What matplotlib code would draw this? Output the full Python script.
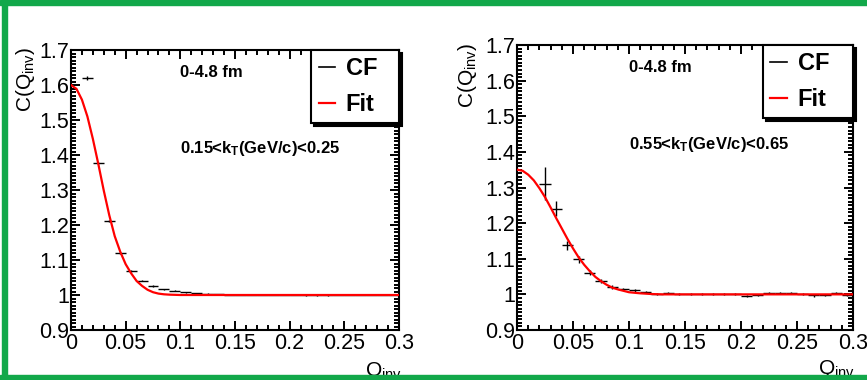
import numpy as np
import matplotlib.pyplot as plt
from matplotlib.lines import Line2D
from matplotlib.patches import Rectangle
from matplotlib.ticker import MultipleLocator, FuncFormatter

plt.rcParams['font.family'] = ['Liberation Sans', 'DejaVu Sans']
plt.rcParams['mathtext.fontset'] = 'custom'
plt.rcParams['mathtext.rm'] = 'Liberation Sans'
plt.rcParams['mathtext.it'] = 'Liberation Sans'
plt.rcParams['mathtext.bf'] = 'Liberation Sans:bold'

# left panel: 0.15<kT<0.25
q_left = [0.015, 0.025, 0.035, 0.045, 0.055, 0.065, 0.075, 0.085, 0.095, 0.105,
          0.115, 0.125, 0.135, 0.145, 0.155, 0.165, 0.175, 0.185, 0.195, 0.205,
          0.215, 0.225, 0.235, 0.245, 0.255, 0.265, 0.275, 0.285, 0.295]
cf_left = [1.620, 1.377, 1.211, 1.120, 1.069, 1.041, 1.026, 1.016, 1.012, 1.008,
           1.005, 1.004, 1.002, 1.001, 1.001, 1.000, 1.000, 1.000, 1.000, 1.000,
           0.999, 0.999, 0.999, 1.000, 1.000, 1.000, 1.000, 1.000, 1.000]
err_left = [0.006, 0.004, 0.003, 0.003, 0.002, 0.002, 0.002, 0.002, 0.001, 0.001,
            0.001, 0.001, 0.001, 0.001, 0.001, 0.001, 0.001, 0.001, 0.001, 0.001,
            0.001, 0.001, 0.001, 0.001, 0.001, 0.001, 0.001, 0.001, 0.001]
fit_q_left = [0, 0.005, 0.01, 0.015, 0.02, 0.025, 0.03, 0.035, 0.04, 0.045, 0.05,
              0.055, 0.06, 0.065, 0.07, 0.075, 0.08, 0.085, 0.09, 0.1, 0.3]
fit_left = [1.600, 1.589, 1.558, 1.510, 1.446, 1.374, 1.298, 1.228, 1.168, 1.124, 1.088,
            1.062, 1.040, 1.026, 1.015, 1.008, 1.004, 1.002, 1.001, 1.000, 1.000]

# right panel: 0.55<kT<0.65
q_right = [0.025, 0.035, 0.045, 0.055, 0.065, 0.075, 0.085, 0.095, 0.105, 0.115,
           0.125, 0.135, 0.145, 0.155, 0.165, 0.175, 0.185, 0.195, 0.205, 0.215,
           0.225, 0.235, 0.245, 0.255, 0.265, 0.275, 0.285, 0.295]
cf_right = [1.311, 1.240, 1.138, 1.098, 1.061, 1.037, 1.021, 1.015, 1.011, 1.007,
            1.001, 1.004, 1.002, 1.001, 1.000, 1.002, 1.002, 1.001, 0.996, 0.999,
            1.003, 1.003, 1.003, 1.000, 0.997, 0.999, 1.003, 0.998]
err_right = [0.047, 0.021, 0.013, 0.009, 0.007, 0.006, 0.005, 0.004, 0.004, 0.003,
             0.003, 0.003, 0.003, 0.003, 0.003, 0.003, 0.003, 0.003, 0.003, 0.003,
             0.003, 0.003, 0.003, 0.003, 0.003, 0.003, 0.003, 0.003]
fit_q_right = [0, 0.005, 0.01, 0.015, 0.02, 0.025, 0.03, 0.035, 0.04, 0.045, 0.05,
               0.055, 0.06, 0.065, 0.07, 0.075, 0.08, 0.085, 0.09, 0.095, 0.1,
               0.11, 0.12, 0.13, 0.3]
fit_right = [1.350, 1.347, 1.336, 1.320, 1.298, 1.273, 1.244, 1.214, 1.185, 1.156, 1.129,
             1.104, 1.083, 1.065, 1.049, 1.037, 1.027, 1.019, 1.014, 1.010, 1.006,
             1.003, 1.001, 1.000, 1.000]

bin_half = 0.005
panels = [
    dict(pos=[71/867, 50/380, 328/867, 280/380], q=q_left, cf=cf_left, err=err_left,
         fq=fit_q_left, fit=fit_left, kt='0.15<k$_{\\mathbf{T}}$(GeV/c)<0.25',
         ylab=(-0.140, 1.011), xlab=(0.896, -0.107)),
    dict(pos=[517/867, 50/380, 336/867, 285/380], q=q_right, cf=cf_right, err=err_right,
         fq=fit_q_right, fit=fit_right, kt='0.55<k$_{\\mathbf{T}}$(GeV/c)<0.65',
         ylab=(-0.146, 1.007), xlab=(0.896, -0.098)),
]

fig = plt.figure(figsize=(8.67, 3.8), dpi=100)
fmt = FuncFormatter(lambda v, p: '%g' % round(v, 3))

for p in panels:
    ax = fig.add_axes(p['pos'])
    ax.errorbar(p['q'], p['cf'], xerr=bin_half, yerr=p['err'], fmt='none',
                ecolor='black', elinewidth=1.0, zorder=2)
    ax.plot(p['fq'], p['fit'], color='#ff0000', lw=1.6, zorder=3)

    ax.set_xlim(0, 0.3)
    ax.set_ylim(0.9, 1.7)
    ax.xaxis.set_major_locator(MultipleLocator(0.05))
    ax.xaxis.set_minor_locator(MultipleLocator(0.01))
    ax.yaxis.set_major_locator(MultipleLocator(0.1))
    ax.yaxis.set_minor_locator(MultipleLocator(0.01))
    ax.xaxis.set_major_formatter(fmt)
    ax.yaxis.set_major_formatter(fmt)
    ax.tick_params(which='both', direction='in', top=True, right=True, width=1.4,
                   labelsize=15.5)
    ax.tick_params(which='major', length=6.5)
    ax.tick_params(which='minor', length=3.5)
    ax.tick_params(axis='x', pad=2)
    ax.tick_params(axis='y', pad=1.5)
    for s in ax.spines.values():
        s.set_linewidth(1.5)

    # axis titles (ROOT style, at the ends)
    ax.text(p['ylab'][0], p['ylab'][1], 'C(Q$_{inv}$)', transform=ax.transAxes,
            rotation=90, ha='center', va='top', fontsize=15)
    ax.text(p['xlab'][0], p['xlab'][1], 'Q$_{inv}$', transform=ax.transAxes,
            ha='left', va='top', fontsize=15)

    # labels
    ax.text(0.1, 1.636, '0-4.8 fm', ha='left', va='center', fontsize=12, fontweight='bold')
    ax.text(0.1, 1.42, p['kt'], ha='left', va='center', fontsize=12, fontweight='bold')

    handles = [Line2D([], [], color='black', lw=1.2), Line2D([], [], color='#ff0000', lw=1.6)]
    leg = ax.legend(handles, ['CF', 'Fit'], loc='upper left', bbox_to_anchor=(0.733, 0, 0.267, 1.0),
                    mode='expand', borderaxespad=0, fancybox=False, edgecolor='black',
                    framealpha=1, shadow={'color': 'black', 'alpha': 1},
                    prop={'size': 17, 'weight': 'bold'}, handlelength=0.7,
                    handletextpad=0.45, labelspacing=0.55, borderpad=0.3)
    leg.get_frame().set_linewidth(1.5)
    leg.set_zorder(5)

# green frame around the screenshot
green = '#12a84a'
fig.add_artist(Rectangle((0, 1 - 5/380), 1, 5/380, transform=fig.transFigure,
                         color=green, zorder=10))
fig.add_artist(Rectangle((0, 0), 1, 5/380, transform=fig.transFigure,
                         color=green, zorder=10))
fig.add_artist(Rectangle((2/867, 0), 5/867, 1, transform=fig.transFigure,
                         color=green, zorder=10))

plt.savefig('out.png', dpi=100)
